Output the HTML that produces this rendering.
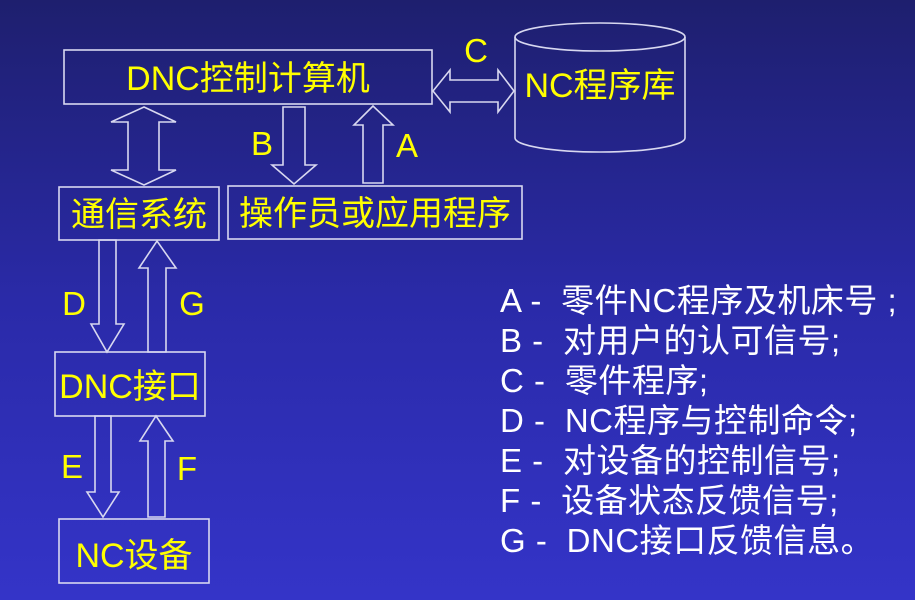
<!DOCTYPE html>
<html><head><meta charset="utf-8"><style>
html,body{margin:0;padding:0;width:915px;height:600px;overflow:hidden}
body{background:linear-gradient(#1e1f6e 0%,#2a2aa8 50%,#3434c8 100%)}
svg{display:block}
text{font-family:"Liberation Sans","Noto Sans CJK SC",sans-serif;white-space:pre}
.y{fill:#ffff00;font-size:33px}
.w{fill:#ffffff;font-size:33px;letter-spacing:0.5px}
.b{fill:none;stroke:#d8d8f0;stroke-width:1.6}
</style></head><body>
<svg width="915" height="600" viewBox="0 0 915 600">
<rect class="b" x="64" y="50" width="368" height="54"/>
<rect class="b" x="59" y="187" width="160" height="53"/>
<rect class="b" x="228" y="186" width="294" height="53"/>
<rect class="b" x="55" y="352" width="150" height="64"/>
<rect class="b" x="59" y="519" width="150" height="64"/>
<path class="b" d="M515 37 V138 A85 14 0 0 0 685 138 V37"/>
<ellipse class="b" cx="600" cy="37" rx="85" ry="14"/>
<path class="b" d="M433 91 L450 70 V80 H498 V70 L514 91 L498 112 V102 H450 V112 Z"/>
<path class="b" d="M144 107 L176 122 H159 V170 H176 L144 185 L111 170 H128 V122 H111 Z"/>
<path class="b" d="M283 107 H305 V165 H316 L294 184 L272 165 H283 Z"/>
<path class="b" d="M363 183 H383 V125 H393 L373 106 L354 125 H363 Z"/>
<path class="b" d="M99 240 H116 V324 H124 L107 352 L91 324 H99 Z"/>
<path class="b" d="M148 352 H166 V268 H176 L157 241 L139 268 H148 Z"/>
<path class="b" d="M95 416 H111 V492 H119 L103 517 L87 492 H95 Z"/>
<path class="b" d="M148 517 H165 V441 H173 L156 416 L140 441 H148 Z"/>
<text class="y" x="248" y="90" text-anchor="middle" style="font-size:34px">DNC控制计算机</text>
<text class="y" x="139" y="226" text-anchor="middle" style="font-size:34px">通信系统</text>
<text class="y" x="375" y="225" text-anchor="middle" style="font-size:34px">操作员或应用程序</text>
<text class="y" x="130" y="398" text-anchor="middle" style="font-size:34px">DNC接口</text>
<text class="y" x="134" y="567" text-anchor="middle" style="font-size:34px">NC设备</text>
<text class="y" x="600" y="97" text-anchor="middle" style="font-size:34px">NC程序库</text>
<text class="y" x="476" y="62" text-anchor="middle">C</text>
<text class="y" x="262" y="155" text-anchor="middle">B</text>
<text class="y" x="407" y="157" text-anchor="middle">A</text>
<text class="y" x="74" y="315" text-anchor="middle">D</text>
<text class="y" x="192" y="315" text-anchor="middle">G</text>
<text class="y" x="72" y="478" text-anchor="middle">E</text>
<text class="y" x="187" y="480" text-anchor="middle">F</text>
<text class="w" x="500" y="312">A -  零件NC程序及机床号 ;</text>
<text class="w" x="500" y="352">B -  对用户的认可信号;</text>
<text class="w" x="500" y="392">C -  零件程序;</text>
<text class="w" x="500" y="432">D -  NC程序与控制命令;</text>
<text class="w" x="500" y="472">E -  对设备的控制信号;</text>
<text class="w" x="500" y="512">F -  设备状态反馈信号;</text>
<text class="w" x="500" y="552">G -  DNC接口反馈信息。</text>
</svg>
</body></html>
